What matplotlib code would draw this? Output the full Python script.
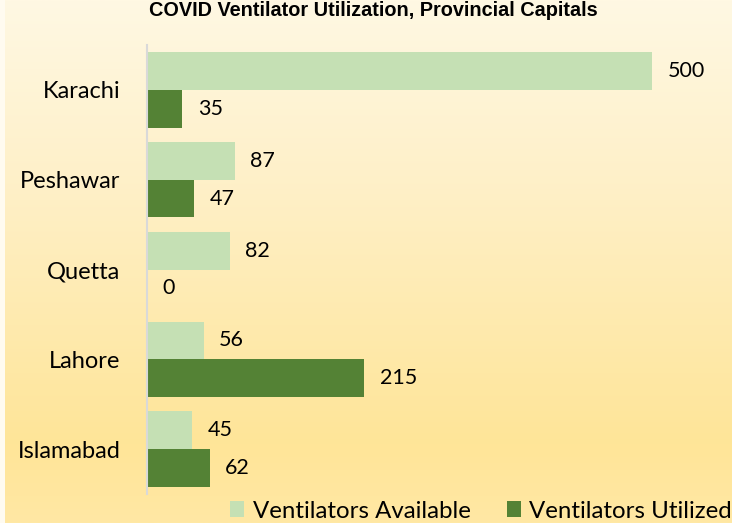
import numpy as np
import matplotlib.pyplot as plt
from matplotlib.colors import LinearSegmentedColormap
from matplotlib.patches import Rectangle

# Ventilator data per provincial capital
cities = ['Karachi', 'Peshawar', 'Quetta', 'Lahore', 'Islamabad']
available = [500, 87, 82, 56, 45]
utilized = [35, 47, 0, 215, 62]

c_avail = '#C5E0B4'
c_util = '#548235'
plt.rcParams['font.family'] = ['Lato', 'DejaVu Sans']

fig = plt.figure(figsize=(7.32, 5.23), dpi=100)

# Gradient background over the whole figure
bg = fig.add_axes([0, 0, 1, 1], zorder=-10)
cmap = LinearSegmentedColormap.from_list(
    'bg', [(0.0, '#FFF8E3'), (0.35, '#FEF0C8'), (0.85, '#FFE598'), (1.0, '#FFE8A4')])
grad = np.linspace(0, 1, 256).reshape(-1, 1)
bg.imshow(grad, aspect='auto', cmap=cmap, extent=[0, 1, 0, 1], origin='upper')
bg.add_patch(Rectangle((0, 0), 5 / 732, 1, color='#FFFBF0', lw=0))
bg.set_xlim(0, 1)
bg.set_ylim(0, 1)
bg.axis('off')

ax = fig.add_axes([147 / 732, 29 / 523, 585 / 732, 449 / 523])
ax.patch.set_alpha(0)
y = np.arange(len(cities))
h = 0.42
ax.barh(y - h / 2, available, height=h, color=c_avail, label='Ventilators Available')
ax.barh(y + h / 2, utilized, height=h, color=c_util, label='Ventilators Utilized')

for i in range(len(cities)):
    ax.annotate(str(available[i]), (available[i], y[i] - h / 2), xytext=(11, 0),
                textcoords='offset points', va='center', ha='left', fontsize=15.5)
    ax.annotate(str(utilized[i]), (utilized[i], y[i] + h / 2), xytext=(11, 0),
                textcoords='offset points', va='center', ha='left', fontsize=15.5)

ax.set_xlim(0, 579)
ax.set_ylim(len(cities) - 0.5, -0.5)
ax.set_yticks(y)
ax.set_yticklabels(cities, fontsize=17)
ax.tick_params(axis='y', length=0, pad=19)
ax.set_xticks([])
for s in ['top', 'right', 'bottom']:
    ax.spines[s].set_visible(False)
ax.spines['left'].set_color('#D9D9D9')
ax.spines['left'].set_linewidth(1.5)

fig.text(373 / 732, 1.0 - 10 / 523, 'COVID Ventilator Utilization, Provincial Capitals',
         ha='center', va='center', fontsize=14.3, fontweight='bold',
         family=['Liberation Sans', 'DejaVu Sans'])

fig.legend(loc='center', bbox_to_anchor=(481 / 732, 12 / 523), ncol=2, frameon=False,
           fontsize=17.3, handlelength=0.6, handleheight=0.6, handletextpad=0.35,
           columnspacing=1.5, borderaxespad=0)

fig.savefig('out.png', dpi=100)
